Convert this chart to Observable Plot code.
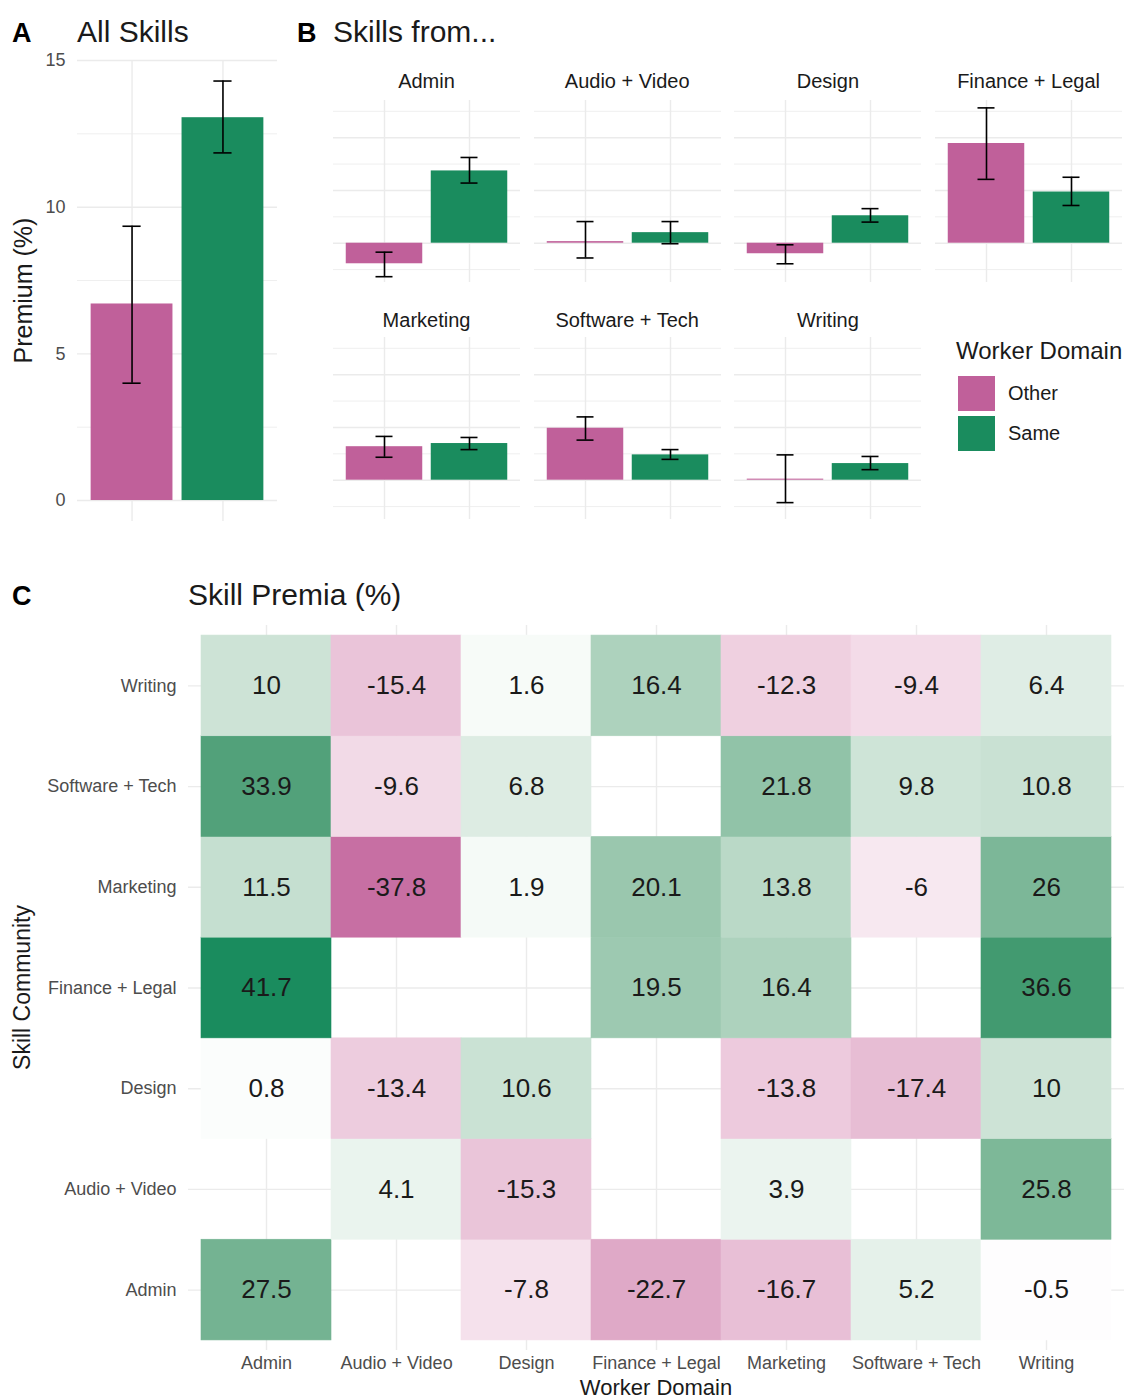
<!DOCTYPE html>
<html><head><meta charset="utf-8">
<script src="https://cdn.jsdelivr.net/npm/d3@7"></script>
<script src="https://cdn.jsdelivr.net/npm/@observablehq/plot@0.6"></script>
<style>
body{margin:0;background:#fff;}
#root{position:relative;width:1135px;height:1400px;overflow:hidden;background:#fff;font-family:"Liberation Sans",Arial,Helvetica,sans-serif;}
</style></head><body><div id="root"></div>
<script>
// ---------- data ----------
const domains = ["Other", "Same"];
// Panel A: All skills
const allSkillsEst = [6.7, 13.05];
const allSkillsLo = [4.0, 11.85];
const allSkillsHi = [9.35, 14.3];

// Panel B: skills from ...
const facetNames = ["Admin", "Audio + Video", "Design", "Finance + Legal", "Marketing", "Software + Tech", "Writing"];
const otherEst = [-7.8, 0.6, -4.0, 37.8, 12.7, 19.7, 0.4];
const otherLo  = [-12.7, -5.6, -7.8, 24.2, 8.7, 15.2, -8.5];
const otherHi  = [-3.4, 8.2, -0.6, 51.3, 16.6, 24.0, 9.6];
const sameEst  = [27.4, 4.0, 10.4, 19.4, 13.9, 9.6, 6.3];
const sameLo   = [22.8, -0.2, 8.0, 14.3, 11.6, 7.9, 4.0];
const sameHi   = [32.5, 8.2, 13.1, 25.0, 16.2, 11.6, 9.0];

// Panel C: skill premia heatmap
const workerDomains = ["Admin", "Audio + Video", "Design", "Finance + Legal", "Marketing", "Software + Tech", "Writing"];
const skillCommunities = ["Admin", "Audio + Video", "Design", "Finance + Legal", "Marketing", "Software + Tech", "Writing"];
const premiaAdmin      = [27.5, null, -7.8, -22.7, -16.7, 5.2, -0.5];
const premiaAudioVideo = [null, 4.1, -15.3, null, 3.9, null, 25.8];
const premiaDesign     = [0.8, -13.4, 10.6, null, -13.8, -17.4, 10];
const premiaFinance    = [41.7, null, null, 19.5, 16.4, null, 36.6];
const premiaMarketing  = [11.5, -37.8, 1.9, 20.1, 13.8, -6, 26];
const premiaSoftware   = [33.9, -9.6, 6.8, null, 21.8, 9.8, 10.8];
const premiaWriting    = [10, -15.4, 1.6, 16.4, -12.3, -9.4, 6.4];
const premiaRows = [premiaAdmin, premiaAudioVideo, premiaDesign, premiaFinance, premiaMarketing, premiaSoftware, premiaWriting];

// ---------- style ----------
const FONT = '"Liberation Sans", Arial, Helvetica, sans-serif';
const PINK = "#C0609A";
const GREEN = "#1A8C5E";
const GRID = "#EBEBEB";
const root = document.getElementById("root");
function place(el, left, top) {
  el.style.position = "absolute";
  el.style.left = left + "px";
  el.style.top = top + "px";
  root.appendChild(el);
}
function errCapInset(widthPx, n, pi, po) {
  const step = widthPx / (n - pi + 2 * po);
  return (0.9 * step - 0.2 * step) / 2;
}

// ---------- Panel A ----------
const aData = domains.map((d, i) => ({domain: d, est: allSkillsEst[i], lo: allSkillsLo[i], hi: allSkillsHi[i]}));
const insetA = errCapInset(300 - 77 - 23, 2, 0.1, 0.15);
const plotA = Plot.plot({
  width: 300, height: 530, marginLeft: 77, marginRight: 23, marginTop: 60, marginBottom: 9,
  style: {fontFamily: FONT, fontSize: "18px", color: "#4d4d4d", background: "transparent", overflow: "visible"},
  x: {domain: domains, paddingInner: 0.1, paddingOuter: 0.15, round: false, axis: null},
  y: {domain: [-0.715, 15.0], ticks: [0, 5, 10, 15], tickSize: 0, tickPadding: 12, label: null},
  color: {domain: domains, range: [PINK, GREEN]},
  marks: [
    Plot.ruleY([2.5, 7.5, 12.5], {stroke: GRID, strokeWidth: 0.8}),
    Plot.ruleY([0, 5, 10, 15], {stroke: GRID, strokeWidth: 1.4}),
    Plot.ruleX(domains, {x: d => d, stroke: GRID, strokeWidth: 1.4}),
    Plot.barY(aData, {x: "domain", y: "est", fill: "domain", inset: 0}),
    Plot.ruleX(aData, {x: "domain", y1: "lo", y2: "hi", stroke: "#000", strokeWidth: 1.6}),
    Plot.tickY(aData, {x: "domain", y: "lo", insetLeft: insetA, insetRight: insetA, stroke: "#000", strokeWidth: 1.6}),
    Plot.tickY(aData, {x: "domain", y: "hi", insetLeft: insetA, insetRight: insetA, stroke: "#000", strokeWidth: 1.6})
  ]
});
place(plotA, 0, 0);

// ---------- Panel B ----------
const FW = 187, FH = 182;
const insetB = errCapInset(FW, 2, 0.1, 0.15);
facetNames.forEach((name, i) => {
  const rows = [
    {domain: "Other", est: otherEst[i], lo: otherLo[i], hi: otherHi[i]},
    {domain: "Same", est: sameEst[i], lo: sameLo[i], hi: sameHi[i]}
  ];
  const p = Plot.plot({
    width: FW, height: FH, marginLeft: 0, marginRight: 0, marginTop: 0, marginBottom: 0,
    style: {fontFamily: FONT, background: "transparent", overflow: "visible"},
    x: {domain: domains, paddingInner: 0.1, paddingOuter: 0.15, round: false, axis: null},
    y: {domain: [-14.9, 54.1], axis: null},
    color: {domain: domains, range: [PINK, GREEN]},
    marks: [
      Plot.ruleY([-10, 10, 30, 50], {stroke: GRID, strokeWidth: 0.8}),
      Plot.ruleY([0, 20, 40], {stroke: GRID, strokeWidth: 1.4}),
      Plot.ruleX(domains, {x: d => d, stroke: GRID, strokeWidth: 1.4}),
      Plot.barY(rows, {x: "domain", y: "est", fill: "domain", inset: 0}),
      Plot.ruleX(rows, {x: "domain", y1: "lo", y2: "hi", stroke: "#000", strokeWidth: 1.6}),
      Plot.tickY(rows, {x: "domain", y: "lo", insetLeft: insetB, insetRight: insetB, stroke: "#000", strokeWidth: 1.6}),
      Plot.tickY(rows, {x: "domain", y: "hi", insetLeft: insetB, insetRight: insetB, stroke: "#000", strokeWidth: 1.6})
    ]
  });
  const col = i % 4, row = Math.floor(i / 4);
  place(p, 333 + col * 200.7, row === 0 ? 100 : 337.3);
});

// ---------- Panel C ----------
const cells = [];
skillCommunities.forEach((s, i) => workerDomains.forEach((w, j) => {
  const v = premiaRows[i][j];
  if (v !== null) cells.push({skill: s, worker: w, value: v});
}));
const maxAbs = d3.max(cells, d => Math.abs(d.value));
const plotC = Plot.plot({
  width: 1135, height: 830, marginLeft: 188, marginRight: 11, marginTop: 55, marginBottom: 50,
  style: {fontFamily: FONT, fontSize: "18px", color: "#4d4d4d", background: "transparent", overflow: "visible"},
  x: {domain: workerDomains, paddingInner: 0, paddingOuter: 0.1, round: false, tickSize: 0, tickPadding: 6, label: null},
  y: {domain: [...skillCommunities].reverse(), paddingInner: 0, paddingOuter: 0.1, round: false, tickSize: 0, tickPadding: 12, label: null},
  color: {type: "linear", domain: [-maxAbs, 0, maxAbs], range: [PINK, "#ffffff", GREEN], interpolate: "lab"},
  marks: [
    Plot.ruleX(workerDomains, {x: d => d, stroke: GRID, strokeWidth: 1.4}),
    Plot.ruleY(skillCommunities, {y: d => d, stroke: GRID, strokeWidth: 1.4}),
    Plot.cell(cells, {x: "worker", y: "skill", fill: "value", stroke: "value", strokeWidth: 0.6, inset: 0}),
    Plot.text(cells, {x: "worker", y: "skill", text: d => String(d.value), fontSize: 26, fill: "#1a1a1a"})
  ]
});
place(plotC, 0, 570);

// ---------- titles, legend, axis titles (overlay) ----------
const ov = d3.create("svg").attr("width", 1135).attr("height", 1400)
  .style("position", "absolute").style("left", "0px").style("top", "0px")
  .style("font-family", FONT).style("pointer-events", "none");
function txt(x, y, s, size, opts = {}) {
  const t = ov.append("text").attr("x", x).attr("y", y).text(s)
    .attr("font-size", size).attr("fill", opts.fill || "#1a1a1a")
    .attr("font-weight", opts.bold ? "bold" : "normal")
    .attr("text-anchor", opts.anchor || "start");
  if (opts.rotate) t.attr("transform", `rotate(-90 ${x} ${y})`);
  return t;
}
txt(12, 42, "A", 27, {bold: true, fill: "#000"});
txt(77, 42, "All Skills", 30);
txt(297, 42, "B", 27, {bold: true, fill: "#000"});
txt(333, 42, "Skills from...", 30);
txt(12, 605, "C", 27, {bold: true, fill: "#000"});
txt(188, 605, "Skill Premia (%)", 30);
facetNames.forEach((name, i) => {
  const col = i % 4, row = Math.floor(i / 4);
  txt(333 + col * 200.7 + FW / 2, row === 0 ? 88.3 : 326.7, name, 20, {anchor: "middle"});
});
txt(32, 290.5, "Premium (%)", 25, {anchor: "middle", rotate: true});
txt(30, 987.5, "Skill Community", 23, {anchor: "middle", rotate: true});
txt(656, 1395, "Worker Domain", 22, {anchor: "middle"});
// legend
txt(956, 359, "Worker Domain", 24);
ov.append("rect").attr("x", 958).attr("y", 376).attr("width", 37).attr("height", 35).attr("fill", PINK);
ov.append("rect").attr("x", 958).attr("y", 416).attr("width", 37).attr("height", 35).attr("fill", GREEN);
txt(1008, 400, domains[0], 20);
txt(1008, 440, domains[1], 20);
root.appendChild(ov.node());
</script></body></html>
